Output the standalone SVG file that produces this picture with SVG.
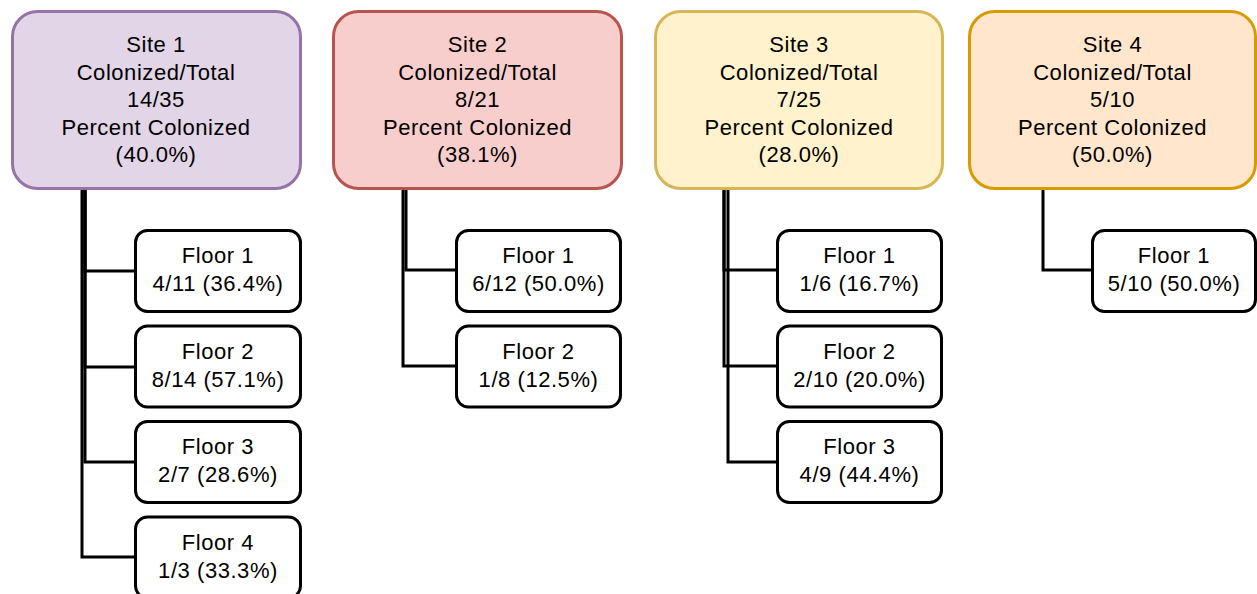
<svg xmlns="http://www.w3.org/2000/svg" width="1257" height="594" viewBox="0 0 1257 594">
<style>
.site{stroke-width:3}
.floor{fill:#ffffff;stroke:#000000;stroke-width:3}
text{font-family:"Liberation Sans",Arial,sans-serif;font-size:22px;letter-spacing:0.55px;fill:#000000;text-anchor:middle}
.conn path{fill:none;stroke:#000000;stroke-width:3}
</style>
<rect width="1257" height="594" fill="#ffffff"/>
<g class="conn" id="connectors">
<path d="M85 189 V271 H135"/>
<path d="M85 189 V367 H135"/>
<path d="M85 189 V462 H135"/>
<path d="M82 189 V557 H135"/>
<path d="M406 189 V270 H456"/>
<path d="M403 189 V366 H456"/>
<path d="M724 189 V270 H777"/>
<path d="M724 189 V366 H777"/>
<path d="M728 189 V462 H777"/>
<path d="M1043 189 V270 H1092"/>
</g>
<g id="site1">
<rect class="site" x="12.5" y="11.5" width="288" height="177" rx="25" fill="#e1d5e7" stroke="#9673a6"/>
<text x="156" y="52">Site 1</text><text x="156" y="79.5">Colonized/Total</text><text x="156" y="107">14/35</text><text x="156" y="134.5">Percent Colonized</text><text x="156" y="162">(40.0%)</text>
</g>
<g id="site2">
<rect class="site" x="333.5" y="11.5" width="288" height="177" rx="25" fill="#f8cecc" stroke="#b85450"/>
<text x="477.5" y="52">Site 2</text><text x="477.5" y="79.5">Colonized/Total</text><text x="477.5" y="107">8/21</text><text x="477.5" y="134.5">Percent Colonized</text><text x="477.5" y="162">(38.1%)</text>
</g>
<g id="site3">
<rect class="site" x="655.5" y="11.5" width="287" height="177" rx="25" fill="#fff2cc" stroke="#d6b656"/>
<text x="799" y="52">Site 3</text><text x="799" y="79.5">Colonized/Total</text><text x="799" y="107">7/25</text><text x="799" y="134.5">Percent Colonized</text><text x="799" y="162">(28.0%)</text>
</g>
<g id="site4">
<rect class="site" x="969.5" y="11.5" width="286" height="177" rx="25" fill="#ffe6cc" stroke="#d79b00"/>
<text x="1112.5" y="52">Site 4</text><text x="1112.5" y="79.5">Colonized/Total</text><text x="1112.5" y="107">5/10</text><text x="1112.5" y="134.5">Percent Colonized</text><text x="1112.5" y="162">(50.0%)</text>
</g>
<g id="s1f1"><rect class="floor" x="135.5" y="230.5" width="165" height="81" rx="12"/><text x="218" y="263">Floor 1</text><text x="218" y="291">4/11 (36.4%)</text></g>
<g id="s1f2"><rect class="floor" x="135.5" y="326" width="165" height="81" rx="12"/><text x="218" y="358.5">Floor 2</text><text x="218" y="386.5">8/14 (57.1%)</text></g>
<g id="s1f3"><rect class="floor" x="135.5" y="421.5" width="165" height="81" rx="12"/><text x="218" y="454">Floor 3</text><text x="218" y="482">2/7 (28.6%)</text></g>
<g id="s1f4"><rect class="floor" x="135.5" y="517" width="165" height="81" rx="12"/><text x="218" y="549.5">Floor 4</text><text x="218" y="577.5">1/3 (33.3%)</text></g>
<g id="s2f1"><rect class="floor" x="456.5" y="230.5" width="164" height="81" rx="12"/><text x="538.5" y="263">Floor 1</text><text x="538.5" y="291">6/12 (50.0%)</text></g>
<g id="s2f2"><rect class="floor" x="456.5" y="326" width="164" height="81" rx="12"/><text x="538.5" y="358.5">Floor 2</text><text x="538.5" y="386.5">1/8 (12.5%)</text></g>
<g id="s3f1"><rect class="floor" x="777.5" y="230.5" width="164" height="81" rx="12"/><text x="859.5" y="263">Floor 1</text><text x="859.5" y="291">1/6 (16.7%)</text></g>
<g id="s3f2"><rect class="floor" x="777.5" y="326" width="164" height="81" rx="12"/><text x="859.5" y="358.5">Floor 2</text><text x="859.5" y="386.5">2/10 (20.0%)</text></g>
<g id="s3f3"><rect class="floor" x="777.5" y="421.5" width="164" height="81" rx="12"/><text x="859.5" y="454">Floor 3</text><text x="859.5" y="482">4/9 (44.4%)</text></g>
<g id="s4f1"><rect class="floor" x="1092.5" y="230.5" width="163" height="81" rx="12"/><text x="1174" y="263">Floor 1</text><text x="1174" y="291">5/10 (50.0%)</text></g>
</svg>
